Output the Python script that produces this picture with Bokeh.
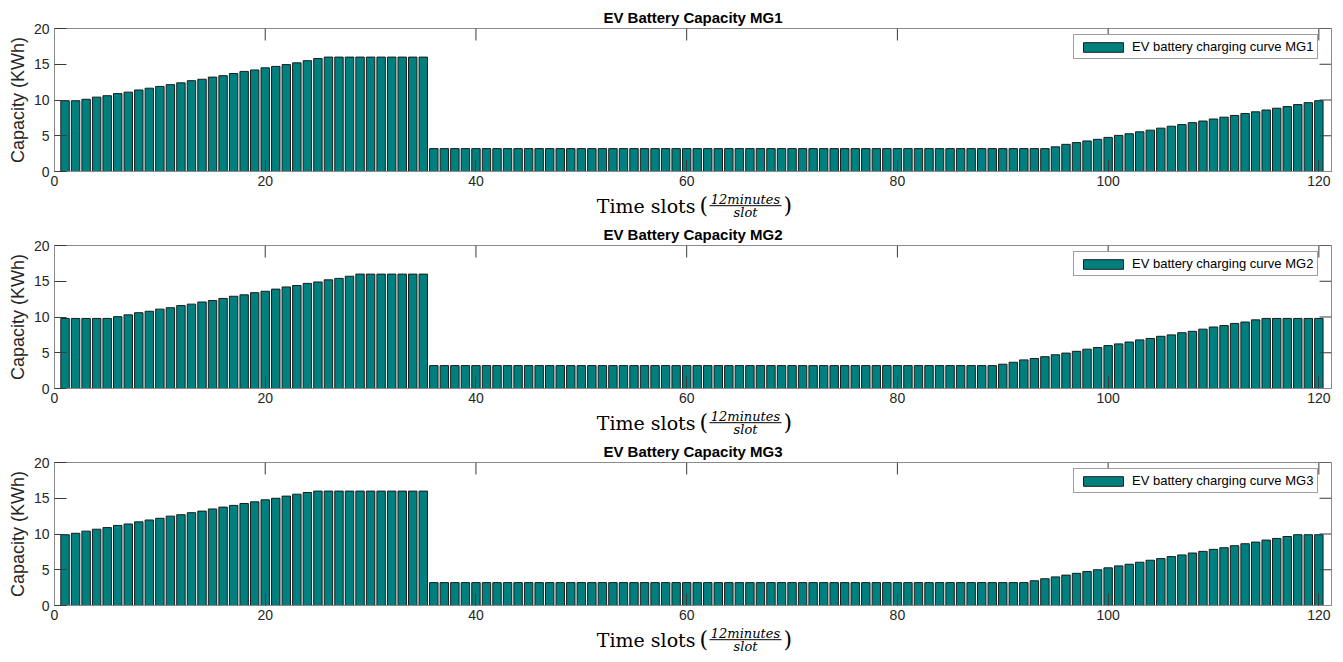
from bokeh.plotting import figure
from bokeh.models import Range1d, FixedTicker, Legend, LegendItem, ColumnDataSource
from bokeh.layouts import column
from bokeh.core.properties import value
from bokeh.embed import file_html
from bokeh.resources import INLINE

# ---------------- data ----------------
slots = list(range(1, 121))

mg1 = ([9.9, 9.9, 10.1, 10.4, 10.6, 10.9, 11.1, 11.4, 11.65, 11.9, 12.15, 12.4,
        12.7, 12.9, 13.2, 13.4, 13.7, 14.0, 14.2, 14.5, 14.7, 14.95, 15.2, 15.5,
        15.8]
       + [16.0] * 10
       + [3.2] * 59
       + [3.45, 3.8, 4.04, 4.27, 4.5, 4.77, 5.05, 5.28, 5.55, 5.78, 6.06, 6.33,
          6.56, 6.83, 7.06, 7.34, 7.6, 7.84, 8.1, 8.35, 8.6, 8.85, 9.08, 9.36,
          9.63, 9.9])

mg2 = ([9.8, 9.8, 9.8, 9.8, 9.8, 10.05, 10.3, 10.6, 10.8, 11.1, 11.3, 11.6,
        11.8, 12.1, 12.3, 12.6, 12.9, 13.1, 13.4, 13.6, 13.9, 14.2, 14.4, 14.7,
        14.9, 15.2, 15.4, 15.7]
       + [16.0] * 7
       + [3.2] * 54
       + [3.4, 3.67, 4.0, 4.2, 4.45, 4.72, 4.95, 5.2, 5.5, 5.73, 6.0, 6.24, 6.5,
          6.8, 7.0, 7.3, 7.5, 7.8, 8.0, 8.3, 8.6, 8.8, 9.1, 9.3, 9.6]
       + [9.8] * 6)

mg3 = ([9.9, 10.1, 10.4, 10.67, 10.9, 11.2, 11.4, 11.7, 11.96, 12.2, 12.5, 12.7,
        12.98, 13.2, 13.5, 13.76, 14.0, 14.27, 14.5, 14.78, 15.0, 15.3, 15.57,
        15.8]
       + [16.0] * 11
       + [3.2] * 57
       + [3.46, 3.74, 4.0, 4.25, 4.5, 4.76, 5.0, 5.27, 5.54, 5.77, 6.05, 6.33,
          6.56, 6.84, 7.07, 7.34, 7.57, 7.85, 8.08, 8.36, 8.64, 8.87, 9.15, 9.38,
          9.65]
       + [9.9] * 3)

titles = ["EV Battery Capacity MG1", "EV Battery Capacity MG2", "EV Battery Capacity MG3"]
legend_labels = ["EV battery charging curve MG1", "EV battery charging curve MG2",
                 "EV battery charging curve MG3"]
y_label = "Capacity (KWh)"
x_label_main = "Time slots"
x_label_num = "12minutes"
x_label_den = "slot"
x_ticks = [0, 20, 40, 60, 80, 100, 120]
y_ticks = [0, 5, 10, 15, 20]

# ---------------- styling ----------------
BAR_FILL = "#007f7f"
BAR_LINE = "#1c1c1c"
AX_LINE = "#8a8a8a"
TICK_COL = "#3a3a3a"
TXT_COL = "#262626"
SANS = "Liberation Sans"
SERIF = "DejaVu Serif"

W = 1343
X_MAX = 121.2
Y_MAX = 20
FRAME_L, FRAME_R = 54, 1331          # frame edges in page pixels
FRAME_W = FRAME_R - FRAME_L
FRAME_H = 143
BORDER_BOTTOM = 20
STRIP_H = 29
TICK_LEN = 12
BASE_SHIFT = 0.37                    # text glyph baseline correction (x font size)


def strip(h):
    s = figure(width=W, height=h, output_backend="svg", toolbar_location=None,
               title=None, x_range=Range1d(FRAME_L, FRAME_R), y_range=Range1d(h, 0),
               x_axis_type=None, y_axis_type=None,
               min_border=0, min_border_left=0, min_border_right=0,
               min_border_top=0, min_border_bottom=0)
    s.outline_line_color = None
    s.background_fill_color = "white"
    s.border_fill_color = "white"
    s.xgrid.visible = False
    s.ygrid.visible = False
    return s


def put_text(s, x, y, txt, size, style="normal", align="left"):
    s.text(x=[x], y=[y - BASE_SHIFT * size], text=[txt], text_font=value(SERIF),
           text_font_size=f"{size}px", text_font_style=style, text_color="black",
           text_align=align, text_baseline="alphabetic")


def add_xlabel(s):
    # "Time slots ( 12minutes / slot )" built from text pieces + fraction bar
    put_text(s, 695, 22, x_label_main, 19, align="right")
    put_text(s, 699, 22, "(", 22)
    put_text(s, 783, 22, ")", 22)
    put_text(s, 745, 12.4, x_label_num, 13, style="italic", align="center")
    put_text(s, 745, 25.6, x_label_den, 13, style="italic", align="center")
    s.segment(x0=[709], y0=[14.2], x1=[781], y1=[14.2],
              line_color="black", line_width=1)


def bar_panel(vals, idx, border_top):
    src = ColumnDataSource(dict(slot=slots, cap=vals))
    p = figure(width=W, height=border_top + FRAME_H + BORDER_BOTTOM,
               output_backend="svg", toolbar_location=None, title=titles[idx],
               x_range=Range1d(0, X_MAX), y_range=Range1d(0, Y_MAX),
               min_border_left=FRAME_L, min_border_right=W - FRAME_R,
               min_border_top=border_top, min_border_bottom=BORDER_BOTTOM)
    p.title.align = "center"
    p.title.text_font = SANS
    p.title.text_font_size = "15px"
    p.title.text_font_style = "bold"
    p.title.text_color = "black"
    p.title.standoff = 6
    p.title.offset = 0
    p.outline_line_color = AX_LINE
    p.outline_line_width = 1
    p.xgrid.visible = False
    p.ygrid.visible = False
    p.background_fill_color = "white"
    p.border_fill_color = "white"

    r = p.vbar(x="slot", top="cap", width=0.8, bottom=0, source=src,
               fill_color=BAR_FILL, line_color=BAR_LINE, line_width=1)

    xa = p.xaxis[0]
    xa.ticker = FixedTicker(ticks=x_ticks)
    ya = p.yaxis[0]
    ya.ticker = FixedTicker(ticks=y_ticks)
    for ax in (xa, ya):
        ax.axis_line_color = AX_LINE
        ax.major_tick_line_color = TICK_COL
        ax.major_tick_in = TICK_LEN
        ax.major_tick_out = 0
        ax.minor_tick_line_color = None
        ax.major_label_text_font = SANS
        ax.major_label_text_font_size = "14px"
        ax.major_label_text_color = TXT_COL
    xa.major_label_standoff = 4
    ya.major_label_standoff = 5
    ya.axis_label = y_label
    ya.axis_label_text_font = SANS
    ya.axis_label_text_font_size = "18px"
    ya.axis_label_text_font_style = "normal"
    ya.axis_label_text_color = TXT_COL
    ya.axis_label_standoff = 3

    # inward tick marks on the top and right edges of the box (MATLAB "box on")
    ty = TICK_LEN * Y_MAX / FRAME_H
    tx = TICK_LEN * X_MAX / FRAME_W
    p.segment(x0=x_ticks, y0=[Y_MAX] * len(x_ticks), x1=x_ticks,
              y1=[Y_MAX - ty] * len(x_ticks), line_color=TICK_COL, line_width=1)
    p.segment(x0=[X_MAX] * len(y_ticks), y0=y_ticks, x1=[X_MAX - tx] * len(y_ticks),
              y1=y_ticks, line_color=TICK_COL, line_width=1)

    leg = Legend(items=[LegendItem(label=legend_labels[idx], renderers=[r])],
                 location=(1019, 112), orientation="vertical",
                 glyph_width=50, glyph_height=12, label_standoff=4,
                 padding=4, spacing=0, margin=0,
                 label_text_font=SANS, label_text_font_size="13px",
                 label_text_color="black",
                 border_line_color="#404040", border_line_width=1,
                 background_fill_color="white", background_fill_alpha=1.0)
    p.add_layout(leg, "center")
    return p


p1 = bar_panel(mg1, 0, 28)
s1 = strip(STRIP_H)
add_xlabel(s1)

p2 = bar_panel(mg2, 1, 25)
s2 = strip(STRIP_H)
add_xlabel(s2)

p3 = bar_panel(mg3, 2, 25)
s3 = strip(33)
add_xlabel(s3)

layout = column(p1, s1, p2, s2, p3, s3, spacing=0)
open("out.html", "w").write(file_html(layout, INLINE))
